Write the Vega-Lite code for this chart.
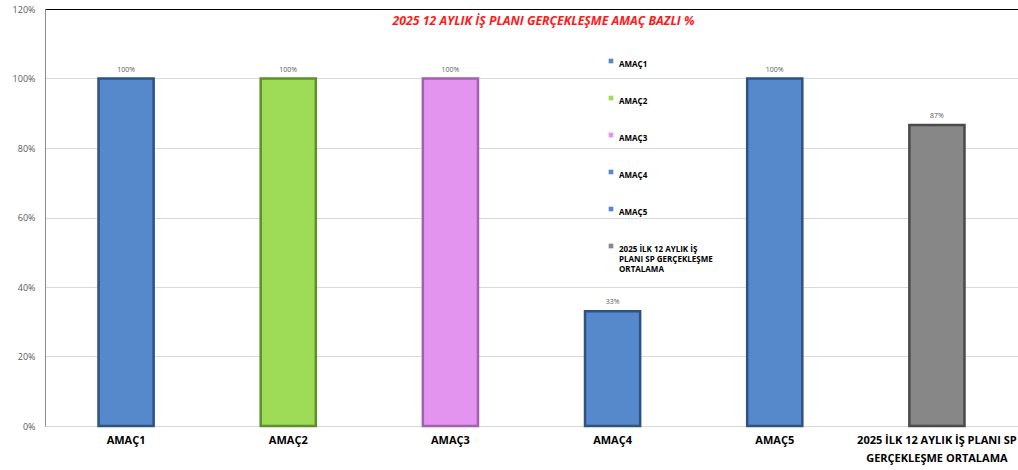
{
  "$schema": "https://vega.github.io/schema/vega-lite/v6.json",
  "width": 973,
  "height": 417,
  "autosize": {"type": "none"},
  "padding": {"left": 45, "top": 9, "right": 0, "bottom": 44},
  "background": "white",
  "config": {
    "font": "Open Sans",
    "view": {"stroke": null}
  },
  "title": {
    "text": "2025 12 AYLIK İŞ PLANI GERÇEKLEŞME AMAÇ BAZLI %",
    "color": "#ff1a1a",
    "fontStyle": "italic",
    "fontWeight": "bold",
    "fontSize": 12.3,
    "font": "Open Sans",
    "anchor": "middle",
    "orient": "top",
    "offset": -22,
    "dx": 12
  },
  "data": {
    "values": [
      {"amac": "AMAÇ1", "oran": 1.0},
      {"amac": "AMAÇ2", "oran": 1.0},
      {"amac": "AMAÇ3", "oran": 1.0},
      {"amac": "AMAÇ4", "oran": 0.33},
      {"amac": "AMAÇ5", "oran": 1.0},
      {"amac": "2025 İLK 12 AYLIK  İŞ PLANI SP GERÇEKLEŞME ORTALAMA", "oran": 0.866}
    ]
  },
  "encoding": {
    "x": {
      "field": "amac",
      "type": "nominal",
      "sort": null,
      "scale": {"paddingInner": 0, "paddingOuter": 0},
      "axis": {
        "title": null,
        "labelAngle": 0,
        "ticks": false,
        "domainColor": "#d9d9d9",
        "labelFontWeight": "bold",
        "labelFontSize": 11,
        "labelColor": "#000000",
        "labelPadding": 8,
        "labelLimit": 400,
        "labelLineHeight": 18,
        "labelExpr": "datum.label == '2025 İLK 12 AYLIK  İŞ PLANI SP GERÇEKLEŞME ORTALAMA' ? ['2025 İLK 12 AYLIK  İŞ PLANI SP', 'GERÇEKLEŞME ORTALAMA'] : datum.label"
      }
    },
    "y": {
      "field": "oran",
      "type": "quantitative",
      "scale": {"domain": [0, 1.2], "nice": false},
      "axis": {
        "title": null,
        "format": ".0%",
        "values": [0, 0.2, 0.4, 0.6, 0.8, 1.0, 1.2],
        "ticks": false,
        "domainColor": "#8c8c8c",
        "labelColor": "#595959",
        "labelFontSize": 9,
        "labelPadding": 10,
        "gridColor": {"condition": {"test": "datum.value >= 1.19", "value": "#000000"}, "value": "#d9d9d9"},
        "gridWidth": 1
      }
    }
  },
  "layer": [
    {
      "mark": {"type": "bar", "width": {"band": 0.34}, "strokeWidth": 2.5},
      "encoding": {
        "color": {
          "field": "amac",
          "type": "nominal",
          "sort": null,
          "scale": {
            "domain": ["AMAÇ1", "AMAÇ2", "AMAÇ3", "AMAÇ4", "AMAÇ5", "2025 İLK 12 AYLIK  İŞ PLANI SP GERÇEKLEŞME ORTALAMA"],
            "range": ["#5589cc", "#9edb56", "#e394ef", "#5589cc", "#5589cc", "#878787"]
          },
          "legend": {
            "title": null,
            "orient": "none",
            "legendX": 562,
            "legendY": 48,
            "symbolType": "square",
            "symbolSize": 22,
            "symbolStrokeWidth": 0,
            "labelFontSize": 8,
            "labelFontWeight": "bold",
            "labelColor": "#000000",
            "labelLimit": 200,
            "labelOffset": 4,
            "rowPadding": 25,
            "labelLineHeight": 12,
            "labelBaseline": "top",
            "labelExpr": "datum.label == '2025 İLK 12 AYLIK  İŞ PLANI SP GERÇEKLEŞME ORTALAMA' ? ['2025 İLK 12 AYLIK  İŞ', 'PLANI SP GERÇEKLEŞME', 'ORTALAMA'] : datum.label"
          }
        },
        "stroke": {
          "field": "amac",
          "type": "nominal",
          "sort": null,
          "scale": {
            "domain": ["AMAÇ1", "AMAÇ2", "AMAÇ3", "AMAÇ4", "AMAÇ5", "2025 İLK 12 AYLIK  İŞ PLANI SP GERÇEKLEŞME ORTALAMA"],
            "range": ["#2f5283", "#5f8e2c", "#a45fb0", "#2f5283", "#2f5283", "#4a4a4a"]
          },
          "legend": null
        }
      }
    },
    {
      "mark": {"type": "text", "dy": -9, "fontSize": 7, "color": "#595959"},
      "encoding": {
        "text": {"field": "oran", "type": "quantitative", "format": ".0%"}
      }
    }
  ]
}
